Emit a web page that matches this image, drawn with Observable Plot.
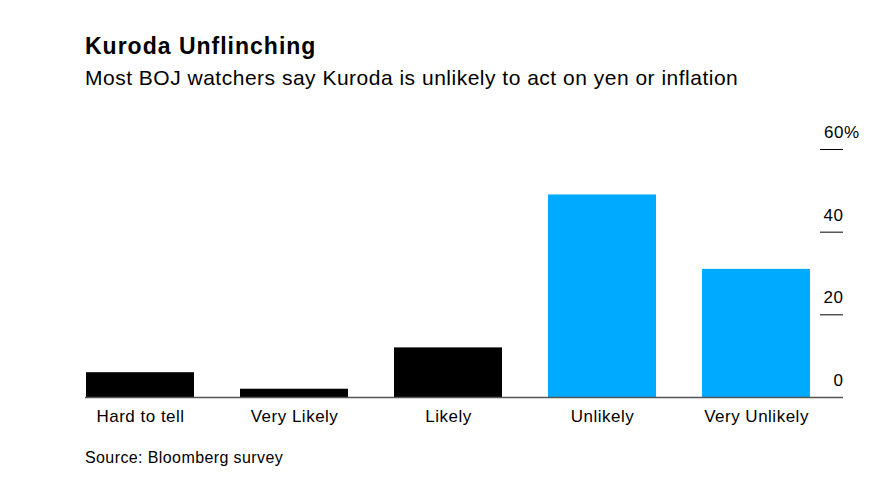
<!DOCTYPE html>
<html>
<head>
<meta charset="utf-8">
<script src="https://cdn.jsdelivr.net/npm/d3@7"></script>
<script src="https://cdn.jsdelivr.net/npm/@observablehq/plot@0.6"></script>
<style>
  html, body { margin: 0; padding: 0; background: #fff; }
  body { width: 885px; height: 483px; position: relative; overflow: hidden; font-family: "Liberation Sans", Arial, sans-serif; color: #000; }
  .t { position: absolute; left: 85px; white-space: nowrap; line-height: 1; }
  #title { top: 34.5px; font-size: 23px; font-weight: bold; letter-spacing: 1px; }
  #subtitle { top: 67px; font-size: 21px; letter-spacing: 0.5px; }
  #caption { top: 449.5px; font-size: 16px; letter-spacing: 0.4px; }
  #chart { position: absolute; left: 0; top: 110px; }
</style>
</head>
<body>
<div id="title" class="t">Kuroda Unflinching</div>
<div id="subtitle" class="t">Most BOJ watchers say Kuroda is unlikely to act on yen or inflation</div>
<div id="chart"></div>
<div id="caption" class="t">Source: Bloomberg survey</div>
<script>
const categories = ["Hard to tell", "Very Likely", "Likely", "Unlikely", "Very Unlikely"];
const shares = [6, 2, 12, 49, 31];
const yTicks = [0, 20, 40];
const yTopTick = [60];

const data = categories.map((c, i) => ({category: c, share: shares[i]}));
const BLUE = "#00aaff";

const chart = Plot.plot({
  width: 885,
  height: 322,
  marginLeft: 85,
  marginRight: 42,
  marginTop: 39,
  marginBottom: 35,
  style: {fontFamily: "'Liberation Sans', Arial, sans-serif", color: "#000", background: "transparent", letterSpacing: "0.5px"},
  x: {domain: categories, range: [85, 811], paddingInner: 0.3, paddingOuter: 0, label: null},
  y: {domain: [0, 60], label: null},
  marks: [
    Plot.barY(data, {x: "category", y: "share", fill: d => d.category.includes("Unlikely") ? BLUE : "#000"}),
    Plot.ruleY(yTicks.slice(1).concat(yTopTick), {insetLeft: 735, stroke: "#000", strokeWidth: 1}),
    Plot.ruleY([0], {stroke: "#555", strokeWidth: 1.5}),
    Plot.axisX({tickSize: 0, tickPadding: 12, fontSize: 17, fill: "#000"}),
    Plot.axisY(yTicks, {anchor: "right", tickSize: 0, tickPadding: 0, textAnchor: "end", dy: -17, fontSize: 17, fill: "#000", label: null}),
    Plot.axisY(yTopTick, {anchor: "right", tickSize: 0, tickPadding: 0, textAnchor: "end", dy: -17, dx: 16, fontSize: 17, fill: "#000", label: null, tickFormat: d => d + "%"})
  ]
});
document.getElementById("chart").appendChild(chart);
</script>
</body>
</html>
